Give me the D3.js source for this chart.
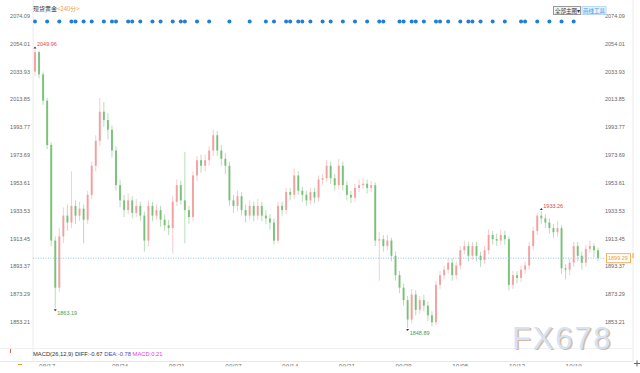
<!DOCTYPE html>
<html>
<head>
<meta charset="utf-8">
<script src="https://cdn.jsdelivr.net/npm/d3@7"></script>
<style>
  body { margin: 0; background: #fff; }
  svg { display: block; font-family: "Liberation Sans", Arial, sans-serif; }
</style>
</head>
<body>
<svg id="chart"></svg>
<script>
// 4h candles, [open, high, low, close]
const candles = [
  [2034, 2049.96, 2031, 2048], [2048, 2049, 2029, 2032], [2032, 2034, 2010, 2013], [2013, 2015, 1978, 1981],
  [1981, 1983, 1908, 1912], [1912, 1915, 1863.19, 1878], [1878, 1921, 1875, 1915], [1915, 1936, 1910, 1930],
  [1930, 1938, 1919, 1925], [1925, 1962, 1921, 1937], [1937, 1941, 1924, 1930], [1930, 1940, 1926, 1935],
  [1935, 1938, 1910, 1927], [1927, 1948, 1924, 1945], [1945, 1969, 1942, 1966], [1966, 1988, 1962, 1984],
  [1984, 2015, 1980, 2005], [2005, 2012, 1994, 1999], [1999, 2004, 1985, 1992], [1992, 1995, 1972, 1977],
  [1977, 1980, 1948, 1952], [1952, 1956, 1936, 1941], [1941, 1945, 1929, 1934], [1934, 1946, 1931, 1941],
  [1941, 1944, 1928, 1932], [1932, 1942, 1929, 1937], [1937, 1940, 1926, 1930], [1930, 1933, 1904, 1912],
  [1912, 1941, 1908, 1937], [1937, 1940, 1926, 1930], [1930, 1938, 1927, 1934], [1934, 1937, 1922, 1927],
  [1927, 1931, 1919, 1923], [1923, 1927, 1916, 1921], [1921, 1944, 1903, 1940], [1940, 1956, 1937, 1952],
  [1952, 1955, 1938, 1941], [1941, 1976, 1910, 1934], [1934, 1937, 1924, 1929], [1929, 1962, 1926, 1959],
  [1959, 1973, 1955, 1970], [1970, 1974, 1961, 1966], [1966, 1974, 1962, 1970], [1970, 1980, 1966, 1977],
  [1977, 1992, 1973, 1988], [1988, 1991, 1973, 1977], [1977, 1981, 1966, 1971], [1971, 1975, 1960, 1966],
  [1966, 1969, 1937, 1941], [1941, 1945, 1932, 1937], [1937, 1948, 1933, 1944], [1944, 1947, 1930, 1934],
  [1934, 1938, 1925, 1930], [1930, 1941, 1927, 1937], [1937, 1940, 1926, 1930], [1930, 1942, 1927, 1937],
  [1937, 1940, 1926, 1930], [1930, 1934, 1924, 1928], [1928, 1931, 1920, 1925], [1925, 1928, 1909, 1912],
  [1912, 1940, 1910, 1937], [1937, 1940, 1930, 1934], [1934, 1950, 1931, 1947], [1947, 1950, 1941, 1945],
  [1945, 1964, 1942, 1959], [1959, 1962, 1945, 1948], [1948, 1951, 1940, 1945], [1945, 1948, 1937, 1941],
  [1941, 1950, 1938, 1947], [1947, 1950, 1939, 1943], [1943, 1959, 1940, 1956], [1956, 1960, 1952, 1957],
  [1957, 1970, 1954, 1966], [1966, 1969, 1953, 1957], [1957, 1960, 1948, 1952], [1952, 1971, 1949, 1966],
  [1966, 1969, 1948, 1952], [1952, 1955, 1941, 1945], [1945, 1948, 1939, 1943], [1943, 1953, 1940, 1950],
  [1950, 1956, 1947, 1952], [1952, 1957, 1949, 1953], [1953, 1956, 1946, 1950], [1950, 1955, 1947, 1952],
  [1952, 1954, 1908, 1912], [1912, 1918, 1883, 1913], [1913, 1916, 1904, 1908], [1908, 1916, 1905, 1912],
  [1912, 1914, 1897, 1901], [1901, 1904, 1883, 1887], [1887, 1890, 1874, 1878], [1878, 1881, 1865, 1869],
  [1869, 1872, 1848.89, 1855], [1855, 1877, 1852, 1873], [1873, 1876, 1858, 1862], [1862, 1872, 1859, 1869],
  [1869, 1873, 1861, 1865], [1865, 1868, 1854, 1858], [1858, 1861, 1850, 1853], [1853, 1883, 1851, 1880],
  [1880, 1890, 1877, 1887], [1887, 1894, 1884, 1891], [1891, 1899, 1888, 1896], [1896, 1899, 1883, 1887],
  [1887, 1897, 1884, 1894], [1894, 1908, 1891, 1905], [1905, 1912, 1902, 1908], [1908, 1911, 1897, 1901],
  [1901, 1911, 1898, 1908], [1908, 1911, 1897, 1901], [1901, 1904, 1893, 1898], [1898, 1908, 1895, 1905],
  [1905, 1920, 1902, 1916], [1916, 1919, 1909, 1913], [1913, 1917, 1908, 1912], [1912, 1920, 1909, 1916],
  [1916, 1919, 1909, 1913], [1913, 1915, 1876, 1880], [1880, 1890, 1877, 1887], [1887, 1890, 1881, 1885],
  [1885, 1894, 1882, 1891], [1891, 1897, 1888, 1894], [1894, 1911, 1891, 1908], [1908, 1922, 1905, 1919],
  [1919, 1932, 1916, 1930], [1930, 1933.26, 1924, 1928], [1928, 1931, 1921, 1925], [1925, 1928, 1917, 1921],
  [1921, 1924, 1914, 1918], [1918, 1926, 1915, 1921], [1921, 1923, 1888, 1892], [1892, 1895, 1884, 1891],
  [1891, 1899, 1887, 1896], [1896, 1911, 1893, 1908], [1908, 1911, 1897, 1901], [1901, 1904, 1891, 1896],
  [1896, 1909, 1893, 1906], [1906, 1912, 1903, 1908], [1908, 1910, 1900, 1905], [1905, 1907, 1897, 1899.29]
];

// price axis labels
const priceTicks = [2074.09, 2054.01, 2033.93, 2013.85, 1993.77, 1973.69, 1953.61, 1933.53, 1913.45, 1893.37, 1873.29, 1853.21];

// candles that carry an event marker (blue dots along the top)
const eventIdx = [0, 3, 6, 9, 10, 12, 14, 17, 19, 20, 23, 24, 26, 29, 31, 34, 36, 37, 40, 43, 48, 53, 57, 59, 62, 63,
  65, 66, 68, 71, 73, 76, 79, 82, 85, 86, 90, 91, 93, 94, 96, 99, 100, 102, 105, 107, 108, 110, 113, 116, 120, 121,
  124, 127, 130, 133];

// date labels along the bottom
const dateIdx = [1, 19, 33, 47, 61, 75, 89, 103, 117, 131];
const dateLabels = ["08/17", "08/24", "08/31", "09/07", "09/14", "09/21", "09/28", "10/05", "10/12", "10/19"];

// marked extremes: [candle index, price, colour key]
const marks = [[0, 2049.96, "up"], [5, 1863.19, "down"], [92, 1848.89, "down"], [125, 1933.26, "up"]];
const lastPrice = 1899.29;

const W = 640, H = 373;
const plot = { left: 33, right: 603, top: 16, bottom: 322 };
const upColor = "#ef8e8e", downColor = "#5fb65f";

const svg = d3.select("#chart").attr("width", W).attr("height", H);
svg.append("rect").attr("width", W).attr("height", H).attr("fill", "#fff");

const x = d3.scaleLinear().domain([0, candles.length - 1]).range([35, 598]);
const y = d3.scaleLinear().domain([1853.21, 2074.09]).range([plot.bottom, plot.top]);

// frame lines
svg.append("line").attr("x1", plot.left).attr("x2", plot.left).attr("y1", 0).attr("y2", 362)
  .attr("stroke", "#ececec");
svg.append("line").attr("x1", 633).attr("x2", 633).attr("y1", 0).attr("y2", 362)
  .attr("stroke", "#ececec");
svg.append("line").attr("x1", 0).attr("x2", 633).attr("y1", 348.5).attr("y2", 348.5).attr("stroke", "#f0f0f0");
svg.append("line").attr("x1", 0).attr("x2", 633).attr("y1", 361.5).attr("y2", 361.5).attr("stroke", "#e8e8e8");

// watermark
const wm = svg.append("g").attr("font-family", "'Liberation Sans', Arial, sans-serif").attr("font-size", 31)
  .attr("letter-spacing", 1.8);
wm.append("text").attr("x", 513.5).attr("y", 350).attr("fill", "#c9a688").attr("opacity", 0.75).text("FX678");
wm.append("text").attr("x", 512).attr("y", 348.5).attr("fill", "#d6e3f4").text("FX678");

// price axes both sides
const axisR = svg.append("g").attr("transform", `translate(605,0)`);
axisR.selectAll("text").data(priceTicks).join("text")
  .attr("x", 0).attr("y", d => y(d) + 2)
  .attr("font-size", 5.5).attr("fill", "#666").text(d => d.toFixed(2));
const axisL = svg.append("g").attr("transform", `translate(30,0)`);
axisL.selectAll("text").data(priceTicks).join("text")
  .attr("x", 0).attr("y", d => y(d) + 2).attr("text-anchor", "end")
  .attr("font-size", 5.5).attr("fill", "#666").text(d => d.toFixed(2));

// candles
const bodyW = 2;
const g = svg.append("g");
const cg = g.selectAll("g.c").data(candles).join("g")
  .attr("class", "c")
  .attr("transform", (d, i) => `translate(${x(i)},0)`);
cg.append("line")
  .attr("y1", d => y(d[1])).attr("y2", d => y(d[2]))
  .attr("stroke", d => d[3] >= d[0] ? upColor : downColor)
  .attr("stroke-opacity", 0.45).attr("stroke-width", 1);
cg.append("rect")
  .attr("x", -bodyW / 2).attr("width", bodyW)
  .attr("y", d => y(Math.max(d[0], d[3])))
  .attr("height", d => Math.max(1, Math.abs(y(d[0]) - y(d[3]))))
  .attr("fill", d => d[3] >= d[0] ? upColor : downColor)
  .attr("fill-opacity", 0.75);

// last price dotted line and tag
svg.append("line").attr("x1", plot.left).attr("x2", 604)
  .attr("y1", y(lastPrice)).attr("y2", y(lastPrice))
  .attr("stroke", "#8fc3ee").attr("stroke-dasharray", "1,1.5");
svg.append("rect").attr("x", 606.5).attr("y", y(lastPrice) - 4.5).attr("width", 24).attr("height", 9)
  .attr("fill", "#fff").attr("stroke", "#f5b25a");
svg.append("text").attr("x", 608).attr("y", y(lastPrice) + 2).attr("font-size", 5.5)
  .attr("fill", "#f09a30").text(lastPrice.toFixed(2));
svg.append("line").attr("x1", 633).attr("x2", 633).attr("y1", y(lastPrice) - 5).attr("y2", y(lastPrice))
  .attr("stroke", "#f09a30");

// extreme markers
marks.forEach(([i, p, k]) => {
  const isHigh = k === "up";
  const py = y(p);
  svg.append("path")
    .attr("d", isHigh ? `M${x(i) - 1.5},${py - 1}L${x(i) + 1.5},${py - 1}L${x(i)},${py - 3}Z`
      : `M${x(i) - 1.5},${py + 1}L${x(i) + 1.5},${py + 1}L${x(i)},${py + 3}Z`)
    .attr("fill", "#333");
  svg.append("text")
    .attr("x", x(i) + 2).attr("y", isHigh ? py - 3 : py + 7)
    .attr("font-size", 5.5)
    .attr("fill", isHigh ? "#e04848" : "#4aa04a")
    .text(p.toFixed(2));
});

// event dots
svg.append("g").selectAll("circle").data(eventIdx).join("circle")
  .attr("cx", d => x(d)).attr("cy", 21.5).attr("r", 2)
  .attr("fill", "#1f7fd6");

// header
svg.append("text").attr("x", 33).attr("y", 11).attr("font-size", 6)
  .attr("font-family", "'Noto Sans CJK SC', sans-serif").attr("fill", "#333").text("现货黄金");
svg.append("text").attr("x", 57).attr("y", 11).attr("font-size", 6)
  .attr("font-family", "'Noto Sans CJK SC', sans-serif").attr("fill", "#f0a030").text("<240分>");

// top-right buttons
svg.append("rect").attr("x", 553.5).attr("y", 6.5).attr("width", 27).attr("height", 8)
  .attr("fill", "#f4f4f4").attr("stroke", "#999");
svg.append("text").attr("x", 555).attr("y", 12.7).attr("font-size", 5.5)
  .attr("font-family", "'Noto Sans CJK SC', sans-serif").attr("fill", "#333").text("全部主图▾");
svg.append("rect").attr("x", 582).attr("y", 6.5).attr("width", 24).attr("height", 8)
  .attr("fill", "#eaf3fc").attr("stroke", "#bcd8f2");
svg.append("text").attr("x", 583).attr("y", 12.7).attr("font-size", 5.5)
  .attr("font-family", "'Noto Sans CJK SC', sans-serif").attr("fill", "#3a8fe0").text("画线工具");

// MACD legend
const macd = svg.append("text").attr("x", 33).attr("y", 356).attr("font-size", 5.8);
macd.append("tspan").attr("fill", "#333").text("MACD(26,12,9) DIFF:-0.67 ");
macd.append("tspan").attr("fill", "#4a4ab8").text("DEA:-0.78 ");
macd.append("tspan").attr("fill", "#e040e0").text("MACD:0.21");
svg.append("line").attr("x1", 10.5).attr("x2", 10.5).attr("y1", 349).attr("y2", 353).attr("stroke", "#e06060");
svg.append("line").attr("x1", 18).attr("x2", 22).attr("y1", 364.5).attr("y2", 364.5).attr("stroke", "#f0a030");

// date labels, only their top edge shows above the panel cut
svg.append("clipPath").attr("id", "dateClip")
  .append("rect").attr("x", 0).attr("y", 362).attr("width", W).attr("height", 4.2);
svg.append("g").attr("clip-path", "url(#dateClip)")
  .selectAll("text").data(dateIdx).join("text")
  .attr("x", d => x(d)).attr("y", 369).attr("font-size", 6.5).attr("fill", "#777")
  .text((d, i) => dateLabels[i]);

// crosshair handle bottom right
svg.append("path").attr("d", "M634,363.5H640M637,360.5V366.5").attr("stroke", "#666");
</script>
</body>
</html>
